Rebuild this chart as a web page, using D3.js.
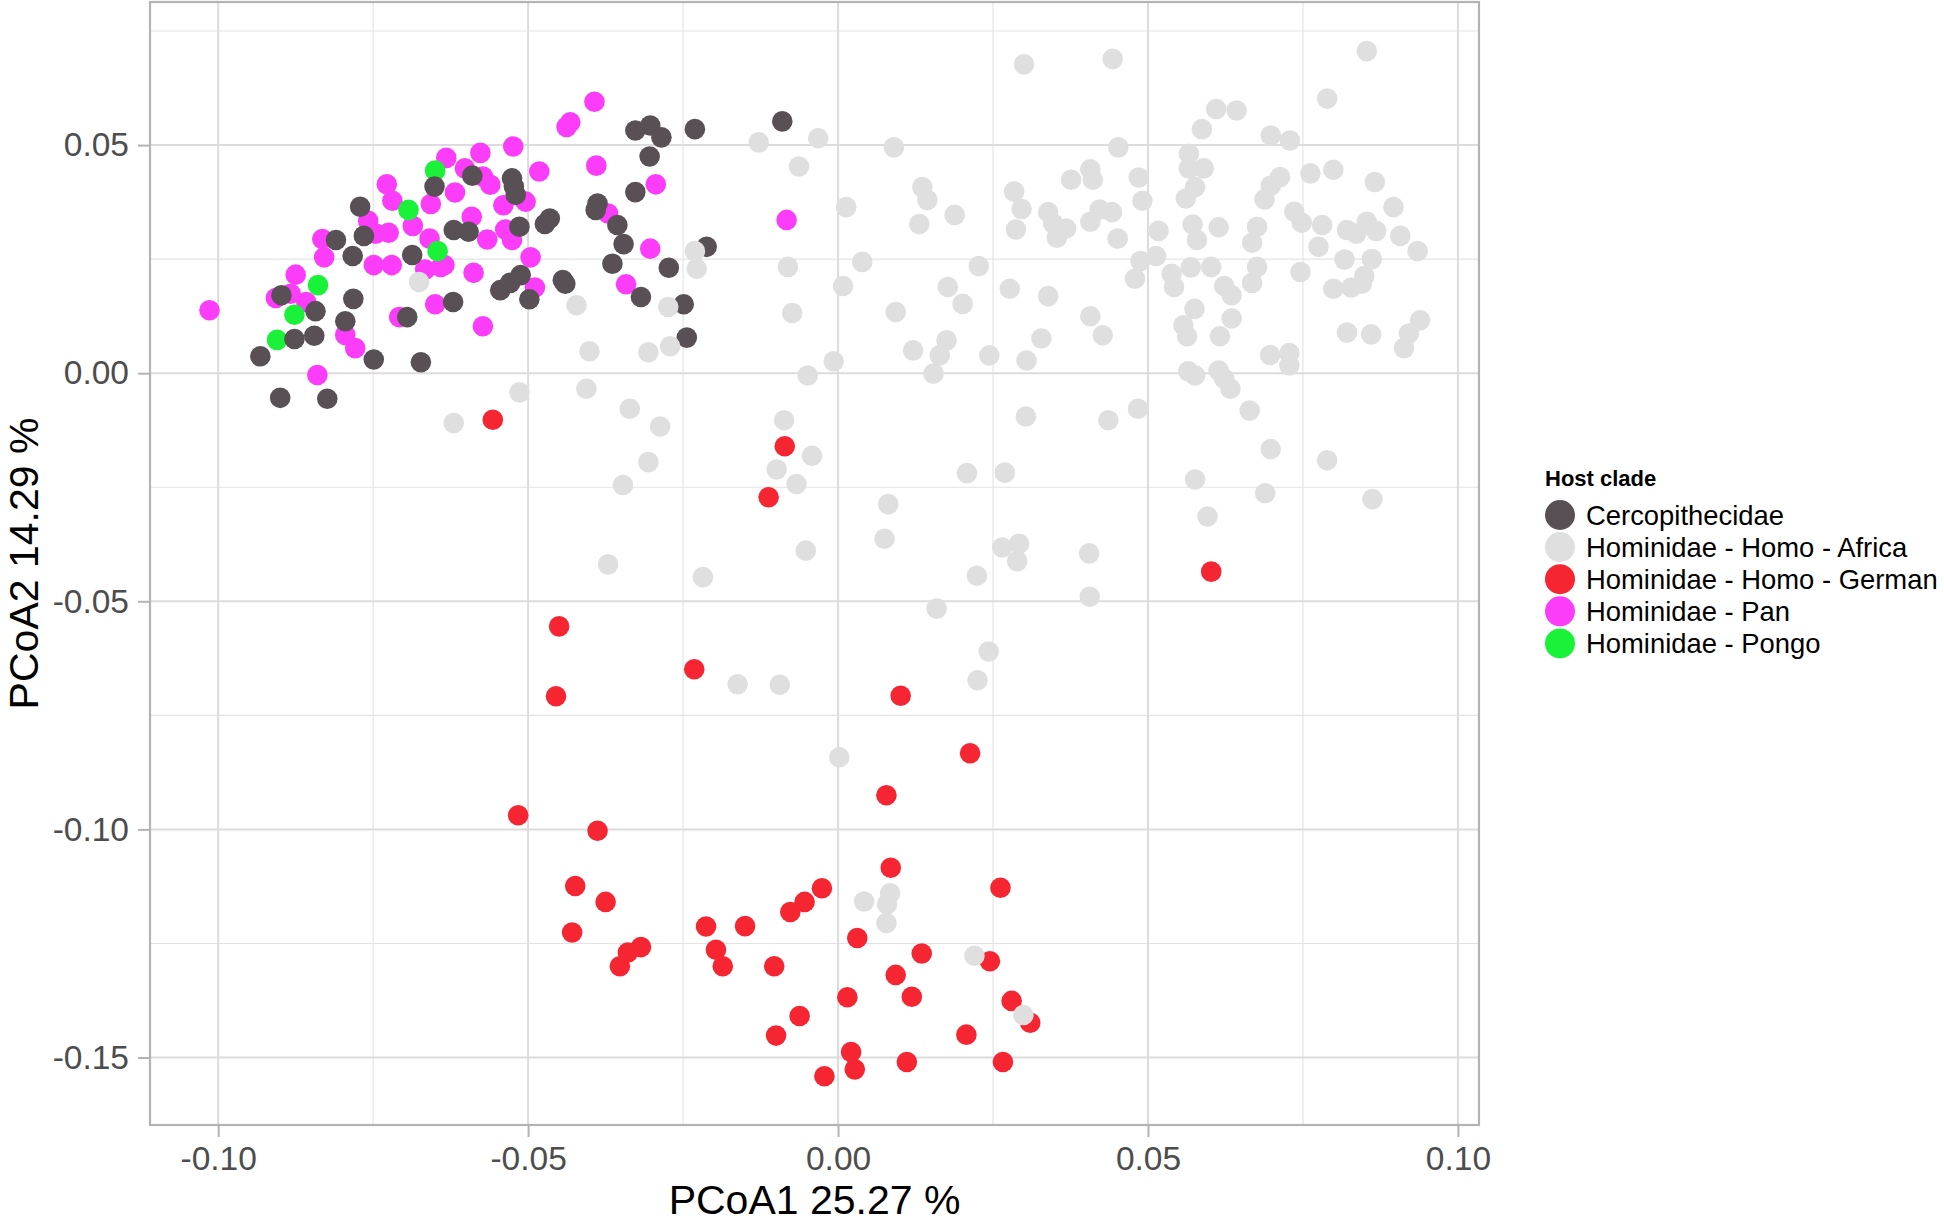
<!DOCTYPE html>
<html>
<head>
<meta charset="utf-8">
<script src="https://cdn.jsdelivr.net/npm/d3@7"></script>
<style>
  body { margin: 0; background: #fff; }
  svg { display: block; font-family: "Liberation Sans", Arial, Helvetica, sans-serif; }
</style>
</head>
<body>
<svg id="chart" width="1944" height="1222"></svg>
<script>
// data
var cladeNames = ["Cercopithecidae", "Hominidae - Homo - Africa", "Hominidae - Homo - German", "Hominidae - Pan", "Hominidae - Pongo"];
var xTicks = [-0.10, -0.05, 0.00, 0.05, 0.10];
var yTicks = [-0.15, -0.10, -0.05, 0.00, 0.05];
var xMinor = [-0.075, -0.025, 0.025, 0.075];
var yMinor = [-0.125, -0.075, -0.025, 0.025, 0.075];
var xTitle = "PCoA1 25.27 %";
var yTitle = "PCoA2 14.29 %";

var cercoPts = [
  [-0.0327, 0.0532], [-0.0303, 0.0543], [-0.0285, 0.0517], [-0.0231, 0.0535], [-0.0304, 0.0475],
  [-0.0590, 0.0433], [-0.0526, 0.0427], [-0.0523, 0.0409], [-0.0520, 0.0391], [-0.0651, 0.0409],
  [-0.0327, 0.0397], [-0.0388, 0.0372], [-0.0391, 0.0358], [-0.0771, 0.0365], [-0.0356, 0.0325],
  [-0.0465, 0.0339], [-0.0473, 0.0327], [-0.0514, 0.0321], [-0.0620, 0.0314], [-0.0596, 0.0310],
  [-0.0765, 0.0301], [-0.0810, 0.0292], [-0.0346, 0.0283], [-0.0212, 0.0277], [-0.0783, 0.0257],
  [-0.0687, 0.0259], [-0.0364, 0.0240], [-0.0273, 0.0231], [-0.0512, 0.0215], [-0.0529, 0.0198],
  [-0.0545, 0.0182], [-0.0498, 0.0162], [-0.0444, 0.0204], [-0.0440, 0.0196], [-0.0898, 0.0171],
  [-0.0782, 0.0163], [-0.0621, 0.0156], [-0.0318, 0.0167], [-0.0249, 0.0151], [-0.0843, 0.0136],
  [-0.0795, 0.0114], [-0.0695, 0.0123], [-0.0877, 0.0075], [-0.0845, 0.0082], [-0.0244, 0.0078],
  [-0.0932, 0.0037], [-0.0749, 0.0030], [-0.0673, 0.0024], [-0.0900, -0.0054], [-0.0824, -0.0056],
  [-0.0090, 0.0552]
];

var africaPts = [
  [-0.0128, 0.0506], [-0.0231, 0.0268], [-0.0228, 0.0229], [-0.0676, 0.0200], [-0.0422, 0.0149],
  [-0.0274, 0.0145], [-0.0401, 0.0048], [-0.0306, 0.0046], [-0.0271, 0.0059], [-0.0514, -0.0042],
  [-0.0406, -0.0034], [-0.0336, -0.0078], [-0.0287, -0.0117], [-0.0620, -0.0109], [-0.0306, -0.0195],
  [-0.0347, -0.0245], [-0.0371, -0.0419], [-0.0218, -0.0447], [-0.0099, -0.0211], [-0.0067, -0.0243],
  [-0.0052, -0.0389], [-0.0162, -0.0682], [-0.0094, -0.0683],
  [0.0300, 0.0677], [0.0443, 0.0689], [0.0853, 0.0706], [0.0789, 0.0602], [0.0610, 0.0579],
  [0.0643, 0.0576], [0.0587, 0.0535], [0.0698, 0.0521], [0.0729, 0.0510], [-0.0032, 0.0515],
  [0.0090, 0.0495], [0.0452, 0.0495], [0.0566, 0.0481], [-0.0063, 0.0453], [0.0566, 0.0449],
  [0.0590, 0.0449], [0.0407, 0.0447], [0.0376, 0.0424], [0.0411, 0.0424], [0.0713, 0.0430],
  [0.0762, 0.0438], [0.0799, 0.0446], [0.0866, 0.0419], [0.0485, 0.0429], [0.0576, 0.0408],
  [0.0698, 0.0411], [0.0136, 0.0408], [0.0144, 0.0380], [0.0284, 0.0398], [0.0561, 0.0383],
  [0.0491, 0.0378], [0.0688, 0.0381], [0.0013, 0.0364], [0.0296, 0.0360], [0.0339, 0.0353],
  [0.0422, 0.0359], [0.0442, 0.0353], [0.0736, 0.0354], [0.0896, 0.0364], [0.0188, 0.0347],
  [0.0131, 0.0327], [0.0407, 0.0332], [0.0572, 0.0326], [0.0614, 0.0320], [0.0676, 0.0321],
  [0.0781, 0.0325], [0.0748, 0.0330], [0.0853, 0.0332], [0.0287, 0.0315], [0.0347, 0.0328],
  [0.0368, 0.0317], [0.0517, 0.0312], [0.0821, 0.0314], [0.0836, 0.0306], [0.0868, 0.0312],
  [0.0353, 0.0297], [0.0451, 0.0295], [0.0579, 0.0292], [0.0668, 0.0286], [0.0775, 0.0277],
  [0.0907, 0.0301], [0.0935, 0.0268], [0.0513, 0.0257], [0.0488, 0.0246], [0.0039, 0.0244],
  [-0.0081, 0.0233], [0.0227, 0.0235], [0.0569, 0.0232], [0.0602, 0.0233], [0.0676, 0.0233],
  [0.0817, 0.0249], [0.0861, 0.0250], [0.0538, 0.0218], [0.0746, 0.0222], [0.0849, 0.0213],
  [0.0479, 0.0207], [0.0668, 0.0198], [0.0008, 0.0191], [0.0177, 0.0189], [0.0542, 0.0189],
  [0.0623, 0.0191], [0.0635, 0.0171], [0.0277, 0.0185], [0.0339, 0.0169], [0.0799, 0.0185],
  [0.0828, 0.0188], [0.0845, 0.0196], [0.0201, 0.0152], [-0.0074, 0.0132], [0.0093, 0.0134],
  [0.0575, 0.0141], [0.0407, 0.0125], [0.0635, 0.0120], [0.0939, 0.0116], [0.0557, 0.0105],
  [0.0563, 0.0081], [0.0427, 0.0083], [0.0616, 0.0081], [0.0821, 0.0089], [0.0860, 0.0085],
  [0.0921, 0.0087], [0.0913, 0.0055], [0.0175, 0.0072], [0.0121, 0.0050], [0.0164, 0.0039],
  [0.0328, 0.0076], [0.0244, 0.0039], [0.0304, 0.0028], [-0.0007, 0.0026], [-0.0049, -0.0005],
  [0.0154, -0.0001], [0.0697, 0.0040], [0.0728, 0.0044], [0.0728, 0.0017], [0.0565, 0.0004],
  [0.0576, -0.0005], [0.0614, 0.0006], [0.0623, -0.0012], [0.0633, -0.0034], [0.0664, -0.0082],
  [0.0484, -0.0078], [0.0303, -0.0095], [0.0436, -0.0103], [-0.0087, -0.0103], [0.0698, -0.0166],
  [-0.0042, -0.0181], [0.0789, -0.0191],
  [0.0081, -0.0287], [0.0075, -0.0363], [0.0576, -0.0233], [0.0689, -0.0263], [0.0862, -0.0276],
  [0.0596, -0.0314], [0.0208, -0.0219], [0.0269, -0.0218], [0.0265, -0.0382], [0.0292, -0.0374],
  [0.0289, -0.0412], [0.0405, -0.0395], [0.0224, -0.0444], [0.0406, -0.0490], [0.0159, -0.0516],
  [0.0243, -0.0610], [0.0225, -0.0673], [0.0002, -0.0842],
  [0.0042, -0.1158], [0.0084, -0.1140], [0.0079, -0.1164], [0.0078, -0.1205], [0.0220, -0.1277],
  [0.0299, -0.1407]
];

var germanPts = [
  [-0.0557, -0.0102], [-0.0086, -0.0160], [-0.0112, -0.0272], [-0.0450, -0.0555], [-0.0232, -0.0649],
  [-0.0455, -0.0708], [0.0101, -0.0707], [0.0602, -0.0435], [0.0213, -0.0833], [0.0078, -0.0925],
  [-0.0516, -0.0969], [-0.0388, -0.1003], [0.0085, -0.1084], [-0.0424, -0.1124], [-0.0375, -0.1159],
  [0.0262, -0.1128], [-0.0026, -0.1129], [-0.0054, -0.1159], [-0.0077, -0.1181], [-0.0429, -0.1226],
  [-0.0213, -0.1213], [-0.0150, -0.1212], [0.0031, -0.1238], [-0.0318, -0.1258], [-0.0339, -0.1270],
  [-0.0352, -0.1300], [-0.0197, -0.1264], [-0.0186, -0.1300], [-0.0103, -0.1300], [0.0135, -0.1272],
  [0.0245, -0.1289], [0.0093, -0.1319], [0.0015, -0.1368], [0.0119, -0.1367], [0.0280, -0.1376],
  [0.0310, -0.1424], [-0.0062, -0.1409], [-0.0100, -0.1452], [0.0207, -0.1450], [0.0021, -0.1488],
  [0.0027, -0.1526], [-0.0022, -0.1541], [0.0111, -0.1510], [0.0266, -0.1510]
];

var panPts = [
  [-0.1014, 0.0138], [-0.0393, 0.0595], [-0.0432, 0.0550], [-0.0438, 0.0540], [-0.0524, 0.0497],
  [-0.0577, 0.0483], [-0.0632, 0.0472], [-0.0602, 0.0449], [-0.0482, 0.0442], [-0.0390, 0.0455],
  [-0.0573, 0.0431], [-0.0561, 0.0413], [-0.0294, 0.0414], [-0.0728, 0.0414], [-0.0719, 0.0378],
  [-0.0657, 0.0371], [-0.0618, 0.0396], [-0.0540, 0.0368], [-0.0504, 0.0376], [-0.0371, 0.0350],
  [-0.0758, 0.0334], [-0.0591, 0.0343], [-0.0686, 0.0323], [-0.0746, 0.0306], [-0.0725, 0.0308],
  [-0.0537, 0.0315], [-0.0659, 0.0295], [-0.0566, 0.0293], [-0.0526, 0.0292], [-0.0832, 0.0294],
  [-0.0829, 0.0254], [-0.0303, 0.0273], [-0.0496, 0.0254], [-0.0749, 0.0237], [-0.0720, 0.0237],
  [-0.0666, 0.0227], [-0.0641, 0.0233], [-0.0635, 0.0237], [-0.0588, 0.0220], [-0.0875, 0.0216],
  [-0.0342, 0.0195], [-0.0489, 0.0188], [-0.0907, 0.0165], [-0.0883, 0.0174], [-0.0858, 0.0156],
  [-0.0650, 0.0151], [-0.0708, 0.0123], [-0.0573, 0.0103], [-0.0795, 0.0084], [-0.0779, 0.0055],
  [-0.0840, -0.0004], [-0.0083, 0.0336]
];

var pongoPts = [
  [-0.0650, 0.0444], [-0.0693, 0.0358], [-0.0646, 0.0268], [-0.0839, 0.0193], [-0.0877, 0.0128],
  [-0.0905, 0.0073]
];

var cladePts = [cercoPts, africaPts, germanPts, panPts, pongoPts];

// look
var CLADE_COLORS = ["#585055", "#E0DFE0", "#F62532", "#FB3CF9", "#1AF23A"];
var DRAW_ORDER = [2, 3, 4, 0, 1]; // german, pan, pongo, cerco, africa on top
var PT_R = 10.3;
var LEG_R = 15;

var PANEL = {left: 150, right: 1479, top: 2, bottom: 1125};

var svg = d3.select("#chart");

var x = d3.scaleLinear().domain([-0.1110, 0.1034]).range([PANEL.left, PANEL.right]);
var y = d3.scaleLinear().domain([-0.1648, 0.08137]).range([PANEL.bottom, PANEL.top]);

// grid
var grid = svg.append("g");
grid.selectAll("line.xminor").data(xMinor).enter().append("line")
	.attr("x1", function(d){return x(d);}).attr("x2", function(d){return x(d);})
	.attr("y1", PANEL.top).attr("y2", PANEL.bottom)
	.attr("stroke", "#E3E3E3").attr("stroke-width", 1.1);
grid.selectAll("line.yminor").data(yMinor).enter().append("line")
	.attr("y1", function(d){return y(d);}).attr("y2", function(d){return y(d);})
	.attr("x1", PANEL.left).attr("x2", PANEL.right)
	.attr("stroke", "#E3E3E3").attr("stroke-width", 1.1);
grid.selectAll("line.xmajor").data(xTicks).enter().append("line")
	.attr("x1", function(d){return x(d);}).attr("x2", function(d){return x(d);})
	.attr("y1", PANEL.top).attr("y2", PANEL.bottom)
	.attr("stroke", "#DCDCDC").attr("stroke-width", 2);
grid.selectAll("line.ymajor").data(yTicks).enter().append("line")
	.attr("y1", function(d){return y(d);}).attr("y2", function(d){return y(d);})
	.attr("x1", PANEL.left).attr("x2", PANEL.right)
	.attr("stroke", "#DCDCDC").attr("stroke-width", 2);

// points
DRAW_ORDER.forEach(function(k){
	svg.append("g").selectAll("circle").data(cladePts[k]).enter().append("circle")
		.attr("cx", function(d){return x(d[0]);})
		.attr("cy", function(d){return y(d[1]);})
		.attr("r", PT_R)
		.attr("fill", CLADE_COLORS[k]);
});

// panel border
svg.append("rect")
	.attr("x", PANEL.left).attr("y", PANEL.top)
	.attr("width", PANEL.right - PANEL.left).attr("height", PANEL.bottom - PANEL.top)
	.attr("fill", "none").attr("stroke", "#B3B3B3").attr("stroke-width", 2.2);

// axes
var fmt = function(d){ return d.toFixed(2); };
var xAxis = svg.append("g")
	.attr("transform", "translate(0," + PANEL.bottom + ")")
	.call(d3.axisBottom(x).tickValues(xTicks).tickFormat(fmt).tickSize(12).tickPadding(9));
var yAxis = svg.append("g")
	.attr("transform", "translate(" + PANEL.left + ",0)")
	.call(d3.axisLeft(y).tickValues(yTicks).tickFormat(fmt).tickSize(12).tickPadding(9));
[xAxis, yAxis].forEach(function(a){
	a.select(".domain").remove();
	a.selectAll(".tick line").attr("stroke", "#B3B3B3").attr("stroke-width", 2);
	a.selectAll(".tick text")
		.attr("fill", "#4D4D4D")
		.style("font-size", "33.5px")
		.style("font-family", "'Liberation Sans', Arial, sans-serif");
});

// axis titles
svg.append("text")
	.attr("x", (PANEL.left + PANEL.right) / 2)
	.attr("y", 1214)
	.attr("text-anchor", "middle")
	.style("font-size", "41px")
	.attr("fill", "#000")
	.text(xTitle);
svg.append("text")
	.attr("transform", "translate(38," + (PANEL.top + PANEL.bottom) / 2 + ") rotate(-90)")
	.attr("text-anchor", "middle")
	.style("font-size", "41px")
	.attr("fill", "#000")
	.text(yTitle);

// legend
var legend = svg.append("g");
legend.append("text")
	.attr("x", 1545).attr("y", 486)
	.style("font-size", "22px").style("font-weight", "bold")
	.text("Host clade");
var item = legend.selectAll("g.item").data(cladeNames).enter().append("g")
	.attr("transform", function(d, i){ return "translate(1560," + (515 + i * 32.1) + ")"; });
item.append("circle")
	.attr("r", LEG_R)
	.attr("fill", function(d, i){ return CLADE_COLORS[i]; });
item.append("text")
	.attr("x", 26).attr("y", 10)
	.style("font-size", "27.4px")
	.attr("fill", "#000")
	.text(function(d){ return d; });
</script>
</body>
</html>
